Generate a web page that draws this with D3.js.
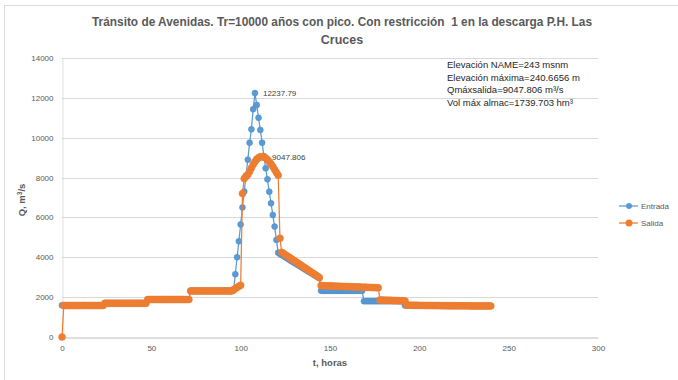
<!DOCTYPE html>
<html>
<head>
<meta charset="utf-8">
<script src="https://cdn.jsdelivr.net/npm/d3@7"></script>
<style>
  body { margin: 0; background: #fff; }
</style>
</head>
<body>
<svg id="chart" width="678" height="380"></svg>
<script>
// tiempo en horas, un dato por hora (0 - 240)
var horas = d3.range(0, 241)

// Entrada, m3/s
var entrada = [
  // 0-23
  1590,1590,1590,1590,1590,1590,1590,1590,1590,1590,1590,1590,1590,1590,1590,1590,1590,1590,1590,1590,1590,1590,1590,1590,
  // 24-47
  1700,1700,1700,1700,1700,1700,1700,1700,1700,1700,1700,1700,1700,1700,1700,1700,1700,1700,1700,1700,1700,1700,1700,1700,
  // 48-71
  1890,1890,1890,1890,1890,1890,1890,1890,1890,1890,1890,1890,1890,1890,1890,1890,1890,1890,1890,1890,1890,1890,1890,1890,
  // 72-95
  2320,2320,2320,2320,2320,2320,2320,2320,2320,2320,2320,2320,2320,2320,2320,2320,2320,2320,2320,2320,2320,2320,2320,2320,
  // 96-121
  2330,3150,4000,4800,5650,6500,7300,8100,8900,9750,10420,11430,12237.79,11640,11000,10390,9750,9080,8470,7910,7290,6710,6120,5540,4870,4230,
  // 122-144
  4170,4120,4060,4000,3950,3890,3830,3780,3720,3670,3610,3560,3500,3450,3390,3340,3280,3230,3170,3120,3060,3010,2950,
  // 145-168
  2320,2320,2320,2320,2320,2320,2320,2320,2320,2320,2320,2320,2320,2320,2320,2320,2320,2320,2320,2320,2320,2320,2320,2320,
  // 169-191
  1800,1800,1800,1800,1800,1800,1800,1800,1800,1800,1800,1800,1800,1800,1800,1800,1800,1800,1800,1800,1800,1800,1800,
  // 192-215
  1580,1580,1580,1580,1580,1580,1580,1580,1580,1580,1580,1580,1580,1580,1580,1580,1580,1580,1580,1580,1580,1580,1580,1580,
  // 216-240
  1560,1560,1560,1560,1560,1560,1560,1560,1560,1560,1560,1560,1560,1560,1560,1560,1560,1560,1560,1560,1560,1560,1560,1560,1560
]

// Salida, m3/s
var salida = [
  // 0-23
  0,1580,1580,1580,1580,1580,1580,1580,1580,1580,1580,1580,1580,1580,1580,1580,1580,1580,1580,1580,1580,1580,1580,1580,
  // 24-47
  1690,1690,1690,1690,1690,1690,1690,1690,1690,1690,1690,1690,1690,1690,1690,1690,1690,1690,1690,1690,1690,1690,1690,1690,
  // 48-71
  1880,1880,1880,1880,1880,1880,1880,1880,1880,1880,1880,1880,1880,1880,1880,1880,1880,1880,1880,1880,1880,1880,1880,1880,
  // 72-95
  2310,2310,2310,2310,2310,2310,2310,2310,2310,2310,2310,2310,2310,2310,2310,2310,2310,2310,2310,2310,2310,2310,2310,2310,
  // 96-121
  2370,2430,2490,2550,2600,7200,7950,8050,8150,8300,8480,8650,8800,8920,9000,9040,9047.806,9030,8980,8900,8800,8680,8550,8400,8250,8120,
  // 122-144
  4950,4250,4190,4130,4070,4010,3950,3890,3830,3770,3710,3650,3590,3530,3470,3410,3350,3290,3230,3170,3110,3050,2990,
  // 145-177
  2580,2575,2570,2570,2565,2560,2560,2555,2550,2550,2545,2540,2540,2535,2530,2530,2525,2520,2520,2515,2510,2510,2505,2500,2500,2495,2490,2490,2485,2480,2480,2475,2470,
  // 178-192
  1860,1855,1850,1850,1845,1840,1840,1835,1830,1830,1825,1820,1820,1815,1810,
  // 193-240
  1600,1598,1596,1594,1592,1590,1588,1586,1585,1584,1583,1582,1581,1580,1579,1578,1577,1576,1575,1574,1573,1572,1571,1570,
  1569,1568,1567,1566,1565,1565,1564,1564,1563,1563,1562,1562,1561,1561,1560,1560,1560,1560,1560,1560,1560,1560,1560,1560
]

var yTicks = [0, 2000, 4000, 6000, 8000, 10000, 12000, 14000]
var xTicks = [0, 50, 100, 150, 200, 250, 300]

var notas = [
  "Elevación NAME=243 msnm",
  "Elevación máxima=240.6656 m",
  "Qmáxsalida=9047.806 m³/s",
  "Vol máx almac=1739.703 hm³"
]

var svg = d3.select("#chart")
var font = "'Liberation Sans', Arial, sans-serif"

// borde del area del grafico
svg.append("rect").attr("x", 4.5).attr("y", 5.5).attr("width", 700).attr("height", 400)
  .attr("fill", "none").attr("stroke", "#d9d9d9")

var mLeft = 62, mRight = 598, mTop = 58, mBottom = 337

var x = d3.scaleLinear().domain([0, 300]).range([mLeft, mRight])
var y = d3.scaleLinear().domain([0, 14000]).range([mBottom, mTop])

// lineas de division
svg.append("g").selectAll("line").data(yTicks.slice(1)).enter().append("line")
  .attr("x1", mLeft).attr("x2", mRight)
  .attr("y1", d => Math.round(y(d)) + 0.5).attr("y2", d => Math.round(y(d)) + 0.5)
  .attr("stroke", "#d9d9d9").attr("stroke-width", 1)

// ejes
var xAxis = d3.axisBottom(x).tickValues(xTicks).tickSize(0).tickPadding(8).tickFormat(d3.format("d"))
var gx = svg.append("g").attr("transform", "translate(0," + (mBottom + 0.5) + ")").call(xAxis)
gx.select(".domain").attr("stroke", "#bfbfbf")
gx.selectAll("text").style("font-family", font).style("font-size", "8px").attr("fill", "#595959")

var yAxis = d3.axisLeft(y).tickValues(yTicks).tickSize(0).tickPadding(9).tickFormat(d3.format("d"))
var gy = svg.append("g").attr("transform", "translate(" + (mLeft + 0.5) + ",0)").call(yAxis)
gy.select(".domain").attr("stroke", "#bfbfbf").attr("stroke-dasharray", "1,1")
gy.selectAll("text").style("font-family", font).style("font-size", "8px").attr("fill", "#595959")

// titulos
svg.append("text").attr("x", 342).attr("y", 26).attr("text-anchor", "middle")
  .text("Tránsito de Avenidas. Tr=10000 años con pico. Con restricción  1 en la descarga P.H. Las")
  .style("font-family", font).style("font-weight", "bold").style("font-size", "12.5px").attr("fill", "#595959")
  .attr("textLength", 500).attr("lengthAdjust", "spacingAndGlyphs")
  .style("white-space", "pre")
svg.append("text").attr("x", 342).attr("y", 44).attr("text-anchor", "middle").text("Cruces")
  .style("font-family", font).style("font-weight", "bold").style("font-size", "12.5px").attr("fill", "#595959")

svg.append("text").attr("x", 330).attr("y", 366).attr("text-anchor", "middle").text("t, horas")
  .style("font-family", font).style("font-weight", "bold").style("font-size", "9.5px").attr("fill", "#595959")

var yt = svg.append("text").attr("transform", "translate(25,200) rotate(-90)").attr("text-anchor", "middle")
  .style("font-family", font).style("font-weight", "bold").style("font-size", "9.5px").attr("fill", "#595959")
yt.append("tspan").text("Q, m")
yt.append("tspan").text("3").attr("dy", -3).style("font-size", "6.5px")
yt.append("tspan").text("/s").attr("dy", 3)

// series
var series = [
  { name: "Entrada", values: entrada, color: "#5B9BD5", stroke: "#4a89c4", r: 3 },
  { name: "Salida", values: salida, color: "#ED7D31", stroke: "#ED7D31", r: 3.5 }
]

var line = d3.line().x(d => x(d[0])).y(d => y(d[1]))

series.forEach(function(s) {
  var pts = horas.map((h, i) => [h, s.values[i]])
  svg.append("path").datum(pts).attr("d", line)
    .attr("fill", "none").attr("stroke", s.color).attr("stroke-width", 1.25)
  svg.append("g").selectAll("circle").data(pts).enter().append("circle")
    .attr("cx", d => x(d[0])).attr("cy", d => y(d[1])).attr("r", s.r)
    .attr("fill", s.color).attr("stroke", s.stroke).attr("stroke-width", 0.5)
})

// etiquetas de maximos
var pkE = d3.maxIndex(entrada), pkS = d3.maxIndex(salida)
svg.append("text").attr("x", x(horas[pkE]) + 8).attr("y", y(entrada[pkE]) + 3).text("12237.79")
  .style("font-family", font).style("font-size", "8px").attr("fill", "#404040")
svg.append("text").attr("x", x(horas[pkS]) + 10).attr("y", y(salida[pkS]) + 3).text("9047.806")
  .style("font-family", font).style("font-size", "8px").attr("fill", "#404040")

// cuadro de texto
svg.append("g").selectAll("text").data(notas).enter().append("text")
  .attr("x", 447).attr("y", (d, i) => 68 + i * 12.5)
  .text(d => d)
  .style("font-family", font).style("font-size", "9.5px").attr("fill", "#262626")

// leyenda
var legend = svg.selectAll(".legend").data(series).enter().append("g")
  .attr("class", "legend")
  .attr("transform", (d, i) => "translate(619," + (206 + i * 17) + ")")
legend.append("line").attr("x1", 0).attr("x2", 19).attr("stroke", d => d.color).attr("stroke-width", 1.25)
legend.append("circle").attr("cx", 10).attr("r", d => d.r).attr("fill", d => d.color)
legend.append("text").attr("x", 22).attr("y", 3).text(d => d.name)
  .style("font-family", font).style("font-size", "8px").attr("fill", "#595959")
</script>
</body>
</html>
